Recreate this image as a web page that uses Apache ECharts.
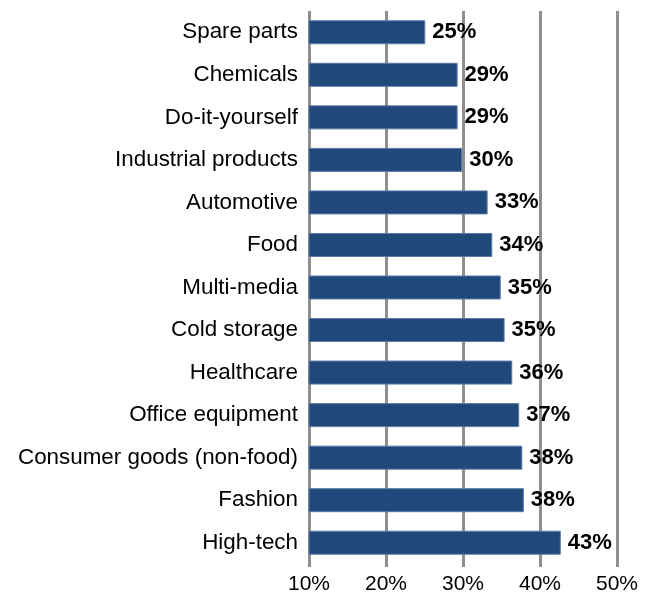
<!DOCTYPE html>
<html>
<head>
<meta charset="utf-8">
<script src="https://cdn.jsdelivr.net/npm/echarts@6/dist/echarts.min.js"></script>
<style>html,body{margin:0;padding:0;background:#fff;}#c{width:655px;height:595px;}</style>
</head>
<body>
<div id="c"></div>
<script>
const categories = ["Spare parts","Chemicals","Do-it-yourself","Industrial products","Automotive","Food","Multi-media","Cold storage","Healthcare","Office equipment","Consumer goods (non-food)","Fashion","High-tech"];
const values = [25.1, 29.3, 29.3, 29.9, 33.2, 33.8, 34.9, 35.4, 36.4, 37.3, 37.7, 37.9, 42.7];
const xTicks = [10, 20, 30, 40, 50];

const font = 'Liberation Sans, Arial, Helvetica, sans-serif';
const chart = echarts.init(document.getElementById('c'), null, {renderer: 'canvas'});
chart.setOption({
  animation: false,
  grid: {left: 309, right: 38, top: 11, bottom: 31, containLabel: false},
  xAxis: {
    type: 'value',
    min: xTicks[0], max: xTicks[xTicks.length - 1], interval: 10,
    axisLine: {show: false},
    axisTick: {show: true, length: 3, lineStyle: {color: '#8f8f8f', width: 3}},
    splitLine: {show: true, lineStyle: {color: '#8f8f8f', width: 3}},
    axisLabel: {
      margin: 10, fontSize: 21, color: '#000', fontFamily: font,
      formatter: v => v + '%'
    }
  },
  yAxis: {
    type: 'category',
    data: categories,
    inverse: true,
    axisLine: {show: false},
    axisTick: {show: false},
    axisLabel: {margin: 11, fontSize: 22.4, color: '#000', fontFamily: font}
  },
  series: [{
    type: 'bar',
    data: values,
    barWidth: 24,
    itemStyle: {color: '#21487b', borderColor: '#5a7ba6', borderWidth: 1},
    label: {
      show: true, position: 'right', distance: 7,
      fontSize: 22, fontWeight: 'bold', color: '#000', fontFamily: font,
      formatter: p => Math.round(p.value) + '%'
    }
  }]
});
</script>
</body>
</html>
